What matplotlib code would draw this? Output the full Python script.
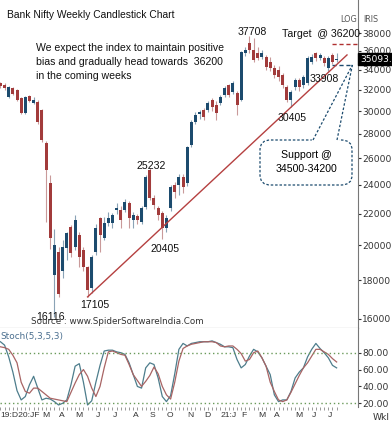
import numpy as np
import pandas as pd
import matplotlib
matplotlib.use('Agg')
import matplotlib.pyplot as plt
from matplotlib.patches import FancyBboxPatch
from matplotlib.ticker import FixedLocator, NullLocator

# weekly candles, Bank Nifty, end of Dec 2019 to mid Jul 2021
weeks = pd.date_range('2019-12-27', periods=82, freq='W-FRI')

opens = [32650, 32470, 31310, 32180, 31980, 31220, 29840, 31400, 30750, 30840,
         30100, 27250, 24140, 18300, 19600, 18500, 19830, 21130, 19900, 20630,
         19710, 18720, 17570, 19600, 21720, 20440, 21390, 21390, 22250, 22250,
         22250, 22720, 21590, 21850, 21460, 22450, 25110, 23070, 22380, 22050,
         21070, 22380, 24000, 24000, 24590, 24140, 27100, 29050, 29700, 30100,
         30110, 31030, 30570, 30750, 31500, 32470, 31790, 31690, 31030, 35770,
         36870, 36100, 35770, 35340, 35340, 34810, 34190, 33980, 33470, 32280,
         31030, 32280, 32970, 32470, 32670, 34810, 35770, 35230, 35230, 34190,
         35560, 35030]
highs = [32800, 32700, 32400, 32300, 32100, 31300, 31400, 31500, 31350, 31030,
         30200, 27400, 24700, 21000, 19900, 20300, 20820, 21250, 21900, 20800,
         19900, 18800, 19400, 21300, 21790, 21800, 22100, 22050, 22700, 22500,
         23000, 22850, 22100, 22000, 22500, 24700, 25232, 23300, 22500, 22200,
         21900, 24000, 24200, 24800, 24800, 27000, 29200, 29900, 30150, 30300,
         30900, 31200, 30900, 31500, 32400, 32600, 32900, 31900, 36000, 36400,
         37708, 37400, 36400, 36100, 35600, 35300, 34500, 34400, 33700, 32500,
         32000, 33200, 33200, 33500, 35400, 35700, 35900, 35800, 35500, 35400,
         35800, 35770]
lows = [32200, 32000, 31200, 31500, 30950, 29750, 29700, 30850, 30650, 28900,
        27300, 21450, 19800, 16116, 17100, 18100, 19130, 19300, 19700, 18700,
        18500, 17105, 17300, 19400, 19600, 20300, 21200, 21100, 22000, 21070,
        22100, 21070, 21070, 21300, 21300, 22300, 22900, 22300, 21600, 20405,
        20800, 22200, 23100, 23300, 23400, 23900, 26900, 28900, 29300, 29200,
        29900, 30000, 29200, 30600, 31300, 31300, 31600, 29660, 30900, 35400,
        35800, 34800, 35000, 35100, 34000, 33900, 33200, 32900, 32200, 30800,
        30405, 32000, 31900, 32200, 32500, 34600, 34900, 35000, 34400, 33908,
        34600, 34800]
closes = [32400, 32180, 32280, 31600, 31030, 29840, 31310, 30950, 31030, 29035,
          27500, 25100, 20440, 20000, 17250, 19900, 20750, 19530, 21590, 19300,
          18720, 17470, 19300, 21070, 20630, 21390, 21720, 21910, 22380, 21590,
          22790, 21720, 21910, 21590, 22380, 24590, 23070, 22590, 21910, 21070,
          21720, 23850, 23490, 24590, 23850, 26920, 29035, 29650, 29900, 29480,
          30750, 30380, 29840, 31310, 32180, 31500, 32670, 30570, 35880, 36100,
          36100, 35020, 35230, 35770, 34290, 34190, 33470, 33270, 32470, 31030,
          31790, 32970, 32280, 33270, 35230, 35340, 35230, 35560, 34710, 35230,
          34810, 35093.6]

# Stoch(5,3,5,3): %K and %D
stoch_k = [93, 89, 75, 57, 35, 24, 28, 42, 52, 38, 24, 26, 25, 22, 18, 20, 24, 42,
           64, 67, 45, 18, 23, 45, 65, 82, 83, 83, 81, 80, 78, 68, 54, 40, 38, 62,
           68, 66, 50, 28, 22, 29, 55, 84, 91, 88, 91, 92, 93, 93, 93, 94, 92, 90,
           87, 87, 86, 72, 62, 66, 76, 84, 81, 74, 64, 54, 30, 22, 24, 24, 34, 50,
           57, 62, 75, 84, 91, 85, 80, 74, 65, 62]
stoch_d = [87, 86, 84, 77, 68, 45, 34, 32, 38, 38, 34, 30, 26, 25, 24, 23, 22, 33,
           44, 54, 60, 52, 38, 28, 40, 62, 81, 82, 80, 78, 77, 66, 54, 47, 40, 46,
           53, 63, 55, 40, 30, 25, 45, 70, 85, 88, 90, 91, 92, 93, 93, 93, 92, 88,
           87, 88, 88, 84, 79, 70, 72, 80, 82, 74, 64, 45, 34, 24, 22, 24, 33, 43,
           53, 62, 68, 76, 84, 84, 81, 78, 73, 69]

price_ticks = [16000, 18000, 20000, 22000, 24000, 26000, 28000, 30000, 32000,
               34000, 36000, 38000]
stoch_ticks = [20, 40, 60, 80]

swing_labels = [(60, 37708), (79, 33908), (70, 30405), (36, 25232),
                (39, 20405), (21, 17105), (13, 16116)]
target = 36200
target_mark = 36800
support = 34500
trend_start = (21, 17105)
trend_end = (83.5, 35560)

BLUE = '#1c4b6e'
RED = '#a23b3b'
SANS = ['Liberation Sans', 'DejaVu Sans']
W, H = 392, 424

fig = plt.figure(figsize=(W / 100, H / 100), dpi=100)
ax = fig.add_axes([0, 1 - 328 / H, 358 / W, 328 / H])
ax2 = fig.add_axes([0, 1 - 407 / H, 358 / W, 79 / H], sharex=ax)

idx = np.arange(len(weeks))
o = np.array(opens); c = np.array(closes)
hi = np.array(highs); lo = np.array(lows)
up = c >= o

# candles
ax.vlines(idx[up], lo[up], hi[up], color='#8aa3b6', lw=0.8, zorder=2)
ax.vlines(idx[~up], lo[~up], hi[~up], color='#c99a9a', lw=0.8, zorder=2)
bot = np.minimum(o, c)
ht = np.maximum(np.abs(c - o), bot * 0.002)
ax.bar(idx, ht, bottom=bot, width=0.72, color=np.where(up, BLUE, RED),
       lw=0, zorder=3)

ax.set_yscale('log')
ax.set_xlim(-0.1, 86.15)
ax.set_ylim(15570, 41990)
ax.yaxis.set_major_locator(FixedLocator(price_ticks))
ax.yaxis.set_minor_locator(NullLocator())
ax.set_yticklabels([str(t) for t in price_ticks])
ax.yaxis.tick_right()
ax.tick_params(axis='y', length=2, pad=1, labelsize=6.6, colors='#333333')
ax.tick_params(axis='x', bottom=False, labelbottom=False)
for s in ['left', 'top']:
    ax.spines[s].set_visible(False)
ax.spines['right'].set_color('#777777')
ax.spines['bottom'].set_color('#666666')

# trend line through the lows
ax.plot([trend_start[0], trend_end[0]], [trend_start[1], trend_end[1]],
        color='#b54040', lw=1, zorder=4)

# target and support marks
ax.hlines(target_mark, 80, 86.15, colors='#b03030', lw=1, linestyles=(0, (3, 2)))
ax.hlines(support, 80, 84.8, colors=BLUE, lw=1, linestyles=(0, (3, 2)))

# swing labels
offsets = {37708: (3, 4), 33908: (-4, -8), 30405: (1, -11), 25232: (1, 2),
           20405: (3, -10), 17105: (7, -8), 16116: (-4, 0)}
for i, v in swing_labels:
    dx, dy = offsets[v]
    ax.annotate(str(v), xy=(i, v), xytext=(dx * 0.72, dy * 0.72),
                textcoords='offset points', ha='center', va='center',
                fontsize=7.6, family=SANS, color='#111111', zorder=6)

# last price tag
ax.text(1.006, closes[-1], f'{closes[-1]:.1f}', transform=ax.get_yaxis_transform(),
        ha='left', va='center', fontsize=6.6, color='white', clip_on=False,
        bbox=dict(fc='black', ec='black', pad=1.2))

# support callout
def axfrac(px, py):
    return px / 358, (328 - py) / 328

x0, y1 = axfrac(260, 140)
x1, y0 = axfrac(352, 185)
box = FancyBboxPatch((x0, y0), x1 - x0, y1 - y0,
                     boxstyle='round,pad=0,rounding_size=0.03',
                     transform=ax.transAxes, fill=False, ec=BLUE, lw=0.9,
                     ls=(0, (2, 1.5)), zorder=5)
ax.add_patch(box)
gl, _ = axfrac(313, 140)
gr, _ = axfrac(337, 140)
ax.plot([gl, gr], [y1, y1], color='white', lw=2.5, transform=ax.transAxes, zorder=6)
apex = (ax.transData + ax.transAxes.inverted()).transform((84.8, support))
for gx in (gl, gr):
    ax.plot([gx, apex[0]], [y1, apex[1]], color=BLUE, lw=0.9, ls=(0, (2, 1.5)),
            transform=ax.transAxes, zorder=6)
cx, cy = axfrac(306, 162)
ax.text(cx, cy, 'Support @\n34500-34200', transform=ax.transAxes, ha='center',
        va='center', fontsize=7.6, family=SANS, linespacing=1.45, zorder=7)

# texts
fig.text(7 / W, 1 - 15 / H, 'Bank Nifty Weekly Candlestick Chart', ha='left',
         va='center', fontsize=7.4, family=SANS, color='#111111')
fig.text(36 / W, 1 - 62 / H,
         'We expect the index to maintain positive\n'
         'bias and gradually head towards  36200\n'
         'in the coming weeks', ha='left', va='center', fontsize=7.6,
         family=SANS, linespacing=1.45, color='#111111')
fig.text(321 / W, 1 - 34 / H, f'Target  @ {target}', ha='center', va='center',
         fontsize=7.6, family=SANS, color='#111111')
fig.text(31 / W, 1 - 322 / H, 'Source : www.SpiderSoftwareIndia.Com', ha='left',
         va='center', fontsize=6.3, color='#333333')
fig.text(349 / W, 1 - 19 / H, 'LOG', ha='center', va='center', fontsize=5.8,
         color='#555555')
fig.text(371 / W, 1 - 19 / H, 'IRIS', ha='center', va='center', fontsize=5.8,
         color='#555555')

# stochastic panel
ax2.plot(idx, stoch_k, color='#4d7d8c', lw=0.9)
ax2.plot(idx, stoch_d, color='#a86464', lw=0.9)
ax2.axhline(80, color='#6a9a5a', lw=1, ls=(0, (1, 2)))
ax2.axhline(20, color='#6a9a5a', lw=1, ls=(0, (1, 2)))
ax2.set_ylim(15.6, 109.3)
ax2.yaxis.set_major_locator(FixedLocator(stoch_ticks))
ax2.set_yticklabels([f'{t:.2f}' for t in stoch_ticks])
ax2.yaxis.tick_right()
ax2.tick_params(axis='y', length=2, pad=1, labelsize=6.6, colors='#333333')
for s in ['left', 'top', 'bottom']:
    ax2.spines[s].set_visible(False)
ax2.spines['right'].set_color('#777777')
ax2.text(0.0, 1 - 8 / 79, 'Stoch(5,3,5,3)', transform=ax2.transAxes, ha='left',
         va='center', fontsize=6.4, color='#4a6f8f')

# month labels; labels that would run into the previous one are joined to it
pos, labs = [], []
for i, d in enumerate(weeks):
    if i == 0 or d.month != weeks[i - 1].month:
        lab = d.strftime('%b')[0]
        if d.month == 1 or i == 0:
            lab = d.strftime('%y') + ':' + lab
        if pos and i - pos[-1] < 0.85 * len(labs[-1]):
            labs[-1] += lab
            continue
        pos.append(i)
        labs.append(lab)
ax2.xaxis.set_major_locator(FixedLocator(pos))
ax2.set_xticklabels(labs, family=SANS)
ax2.xaxis.set_minor_locator(FixedLocator(idx))
ax2.tick_params(axis='x', which='both', length=2, width=0.6, colors='#888888',
                labelsize=6.1, labelcolor='#333333', pad=1.5)
for t in ax2.get_xticklabels():
    t.set_ha('left')
fig.text(381 / W, 1 - 418 / H, 'Wkl', ha='center', va='center', fontsize=6.6,
         color='#333333')

fig.savefig('out.png', dpi=100)
